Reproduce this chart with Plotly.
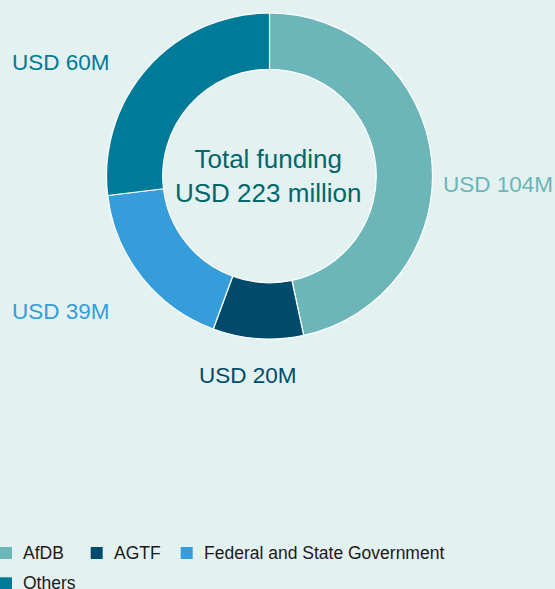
import plotly.graph_objects as go

# Funding sources (USD million)
sources = ["AfDB", "AGTF", "Federal and State Government", "Others"]
amounts = [104, 20, 39, 60]
colors = ["#6cb5b8", "#004b6b", "#359dd9", "#007a99"]

total = sum(amounts)

W, H = 555, 589
BG = "#e4f1f1"
FONT = "Liberation Sans, Arial, Helvetica, sans-serif"

# Ring geometry in pixels
CX, CY, R = 269.5, 176, 163

fig = go.Figure(
    go.Pie(
        labels=sources,
        values=amounts,
        sort=False,
        direction="clockwise",
        rotation=0,
        hole=0.655,
        marker=dict(colors=colors, line=dict(color="#ffffff", width=1.2)),
        textinfo="none",
        hoverinfo="label+value",
        showlegend=False,
        domain=dict(x=[(CX - R) / W, (CX + R) / W],
                    y=[(H - CY - R) / H, (H - CY + R) / H]),
    )
)


def px(x, y):
    """Pixel position -> paper coordinates."""
    return x / W, 1 - y / H


# Value labels around the ring (text taken from the data)
label_pos = [
    (441, 184, "left"),
    (248, 375, "center"),
    (10, 311, "left"),
    (10, 62, "left"),
]
annotations = []
for v, c, (x, y, anchor) in zip(amounts, colors, label_pos):
    ax, ay = px(x, y)
    annotations.append(dict(
        text=f"USD {v}M", x=ax, y=ay, xref="paper", yref="paper",
        xanchor=anchor, yanchor="middle", showarrow=False,
        font=dict(family=FONT, size=22.5, color=c),
    ))

# Centre caption
cx, cy = px(CX - 1.5, CY)
annotations.append(dict(
    text=f"Total funding<br>USD {total} million",
    x=cx, y=cy, xref="paper", yref="paper",
    xanchor="center", yanchor="middle", showarrow=False,
    font=dict(family=FONT, size=26, color="#00676d"),
))

# Flowing legend along the bottom: square swatch + name per entry
legend_pos = [(0, 553), (90.7, 553), (180.7, 553), (0, 583.3)]
SW = 12
shapes = []
for name, c, (x, y) in zip(sources, colors, legend_pos):
    x0, y0 = px(x, y - SW / 2)
    x1, y1 = px(x + SW, y + SW / 2)
    shapes.append(dict(type="rect", xref="paper", yref="paper",
                       x0=x0, x1=x1, y0=y1, y1=y0,
                       fillcolor=c, line=dict(width=0)))
    tx, ty = px(x + 21, y)
    annotations.append(dict(
        text=name, x=tx, y=ty, xref="paper", yref="paper",
        xanchor="left", yanchor="middle", showarrow=False,
        font=dict(family=FONT, size=17.5, color="#1a1a1a"),
    ))

fig.update_layout(
    width=W, height=H,
    margin=dict(l=0, r=0, t=0, b=0),
    paper_bgcolor=BG, plot_bgcolor=BG,
    font=dict(family=FONT, color="#1a1a1a"),
    annotations=annotations,
    shapes=shapes,
    showlegend=False,
)

fig.write_html("out.html")
